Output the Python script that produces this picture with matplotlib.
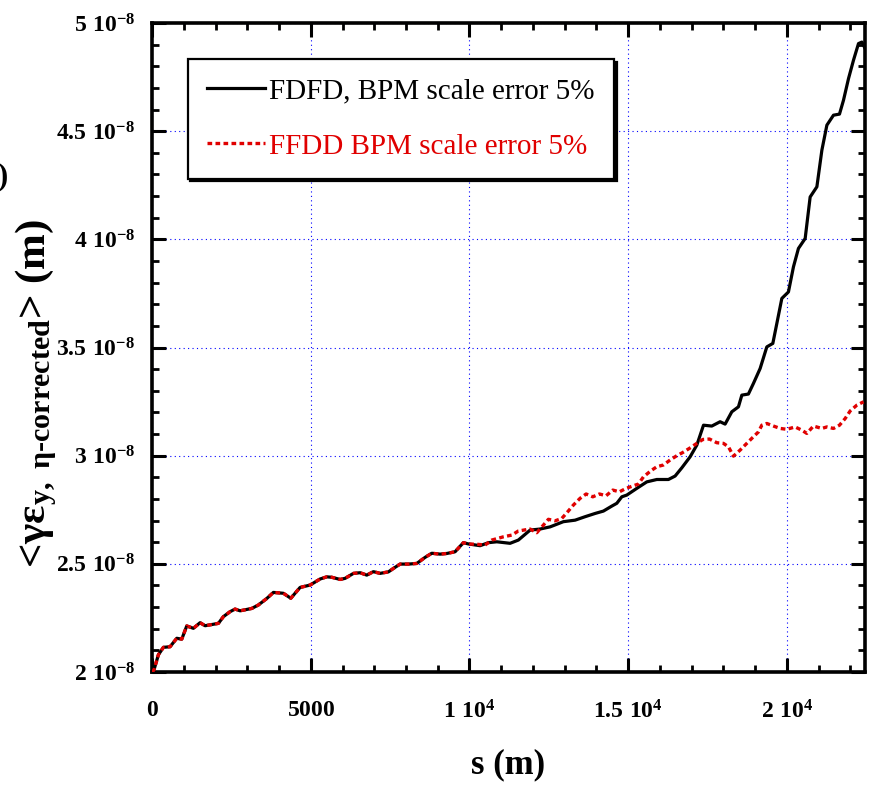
import numpy as np
import matplotlib
matplotlib.use('Agg')
import matplotlib.pyplot as plt
from matplotlib.ticker import FixedLocator, FixedFormatter, MultipleLocator

# --- Data (s in m, emittance in units of 1e-8 m) ---
# both runs overlap up to ~1e4 m
s_common = [0, 60, 200, 357, 567, 778, 935, 1093, 1302, 1512, 1670, 2090, 2247, 2457,
            2615, 2773, 3141, 3350, 3614, 3822, 4137, 4370, 4663, 4978, 5293, 5504,
            5662, 5923, 6081, 6344, 6553, 6764, 6974, 7184, 7446, 7604, 7814, 8076,
            8340, 8601, 8812, 9074, 9285, 9546, 9808, 9965]
emit_common = [2.00, 2.01, 2.08, 2.114, 2.117, 2.156, 2.152, 2.213, 2.202, 2.228, 2.214,
               2.225, 2.256, 2.279, 2.291, 2.283, 2.294, 2.310, 2.340, 2.368, 2.364,
               2.341, 2.391, 2.402, 2.430, 2.440, 2.438, 2.428, 2.433, 2.456, 2.459,
               2.448, 2.464, 2.456, 2.463, 2.479, 2.499, 2.499, 2.502, 2.530, 2.549,
               2.545, 2.548, 2.556, 2.598, 2.592]

s_fdfd_tail = [10334, 10596, 10860, 11279, 11540, 11909, 12224, 12539, 12958, 13327,
               13642, 13957, 14219, 14483, 14641, 14798, 14956, 15271, 15586, 15901,
               16267, 16478, 16689, 16951, 17162, 17372, 17633, 17895, 18053, 18264,
               18473, 18580, 18787, 18945, 19156, 19367, 19556, 19682, 19840, 20048,
               20206, 20363, 20575, 20732, 20944, 21101, 21259, 21467, 21656, 21782,
               21940, 22097, 22255, 22362, 22465]
emit_fdfd_tail = [2.584, 2.598, 2.602, 2.595, 2.610, 2.656, 2.661, 2.671, 2.695, 2.702,
                  2.718, 2.733, 2.744, 2.767, 2.780, 2.810, 2.818, 2.849, 2.879, 2.890,
                  2.890, 2.906, 2.944, 2.995, 3.049, 3.141, 3.137, 3.157, 3.146, 3.203,
                  3.226, 3.280, 3.285, 3.334, 3.403, 3.503, 3.519, 3.611, 3.727, 3.757,
                  3.873, 3.958, 4.004, 4.196, 4.243, 4.412, 4.528, 4.574, 4.579, 4.643,
                  4.743, 4.828, 4.905, 4.912, 4.882]

s_ffdd_tail = [10281, 10491, 10702, 11068, 11333, 11540, 11909, 12120, 12486, 12697,
               12908, 13066, 13274, 13485, 13674, 13885, 14093, 14304, 14515, 14723,
               14934, 15145, 15321, 15479, 15712, 15901, 16109, 16320, 16532, 16721,
               16929, 17162, 17351, 17560, 17791, 18000, 18158, 18316, 18526, 18736,
               18893, 19103, 19209, 19367, 19577, 19787, 19997, 20258, 20470, 20627,
               20836, 21101, 21259, 21467, 21656, 21836, 21994, 22206, 22414]
emit_ffdd_tail = [2.590, 2.587, 2.610, 2.625, 2.633, 2.652, 2.661, 2.644, 2.706, 2.699,
                  2.710, 2.736, 2.772, 2.803, 2.823, 2.810, 2.823, 2.815, 2.841, 2.833,
                  2.849, 2.860, 2.869, 2.902, 2.930, 2.949, 2.957, 2.980, 3.000, 3.015,
                  3.034, 3.057, 3.075, 3.077, 3.060, 3.057, 3.041, 2.998, 3.026, 3.057,
                  3.080, 3.110, 3.141, 3.149, 3.137, 3.126, 3.122, 3.133, 3.118, 3.103,
                  3.137, 3.126, 3.133, 3.126, 3.141, 3.172, 3.207, 3.234, 3.249]

labels = ['FDFD, BPM scale error 5%', 'FFDD BPM scale error 5%']

xticks = [0, 5000, 10000, 15000, 20000]
xtick_labels = [r'$0$', r'$5000$', r'$1\ 10^{4}$', r'$1.5\ 10^{4}$', r'$2\ 10^{4}$']
yticks = [2.0, 2.5, 3.0, 3.5, 4.0, 4.5, 5.0]
ytick_labels = [r'$2\ 10^{-8}$', r'$2.5\ 10^{-8}$', r'$3\ 10^{-8}$', r'$3.5\ 10^{-8}$',
                r'$4\ 10^{-8}$', r'$4.5\ 10^{-8}$', r'$5\ 10^{-8}$']

# --- Style ---
plt.rcParams['font.family'] = 'Liberation Serif'
plt.rcParams['mathtext.fontset'] = 'custom'
plt.rcParams['mathtext.rm'] = 'Liberation Serif:bold'
plt.rcParams['mathtext.it'] = 'Liberation Serif:bold'
plt.rcParams['mathtext.bf'] = 'Liberation Serif:bold'
plt.rcParams['mathtext.default'] = 'rm'

scale = 1e-8
s_fdfd = np.array(s_common + s_fdfd_tail)
e_fdfd = np.array(emit_common + emit_fdfd_tail) * scale
s_ffdd = np.array(s_common + s_ffdd_tail)
e_ffdd = np.array(emit_common + emit_ffdd_tail) * scale

fig = plt.figure(figsize=(8.69, 7.86), dpi=100)
ax = fig.add_axes([0.175, 0.145, 0.8204, 0.8257])

ax.plot(s_fdfd, e_fdfd, color='black', lw=2.3, label=labels[0], zorder=3)
ax.plot(s_ffdd, e_ffdd, color='#e00000', lw=2.4, linestyle=(0, (1.4, 1.0)),
        label=labels[1], zorder=4)

ax.set_xlim(0, 22460)
ax.set_ylim(2e-8, 5e-8)

ax.xaxis.set_major_locator(FixedLocator(xticks))
ax.xaxis.set_major_formatter(FixedFormatter(xtick_labels))
ax.xaxis.set_minor_locator(MultipleLocator(1000))
ax.yaxis.set_major_locator(FixedLocator([v * scale for v in yticks]))
ax.yaxis.set_major_formatter(FixedFormatter(ytick_labels))
ax.yaxis.set_minor_locator(MultipleLocator(0.1e-8))

ax.tick_params(which='both', direction='in', top=True, right=True)
ax.tick_params(which='major', length=10, width=2.2, labelsize=17)
ax.tick_params(which='minor', length=5, width=2.0)
ax.tick_params(axis='x', which='major', pad=20)
ax.tick_params(axis='y', which='major', pad=12)
for sp in ax.spines.values():
    sp.set_linewidth(2.6)

ax.grid(True, which='major', color='blue', linestyle=(0, (1, 3)), linewidth=0.8)
ax.set_axisbelow(True)

ax.set_xlabel('s (m)', fontsize=25, fontweight='bold', labelpad=18)
fig.text(0.042, 1 - 393 / 786, r'<$γε_{y,\ η‐corrected}$> (m)', rotation=90,
         ha='center', va='center', fontsize=31, fontweight='bold')
fig.text(0.009, 1 - 177 / 786, ')', ha='right', va='center', fontsize=22, fontweight='bold')

leg = ax.legend(loc='upper left', bbox_to_anchor=(0.05, 0.945), borderaxespad=0,
                fontsize=21, handlelength=2.0, handletextpad=0.15, borderpad=0.65,
                labelspacing=1.0, fancybox=False, framealpha=1, edgecolor='black',
                shadow={'color': 'black', 'alpha': 1})
leg.get_frame().set_linewidth(1.6)
for txt, c in zip(leg.get_texts(), ['black', '#e00000']):
    txt.set_color(c)

fig.savefig('out.png', dpi=100)
